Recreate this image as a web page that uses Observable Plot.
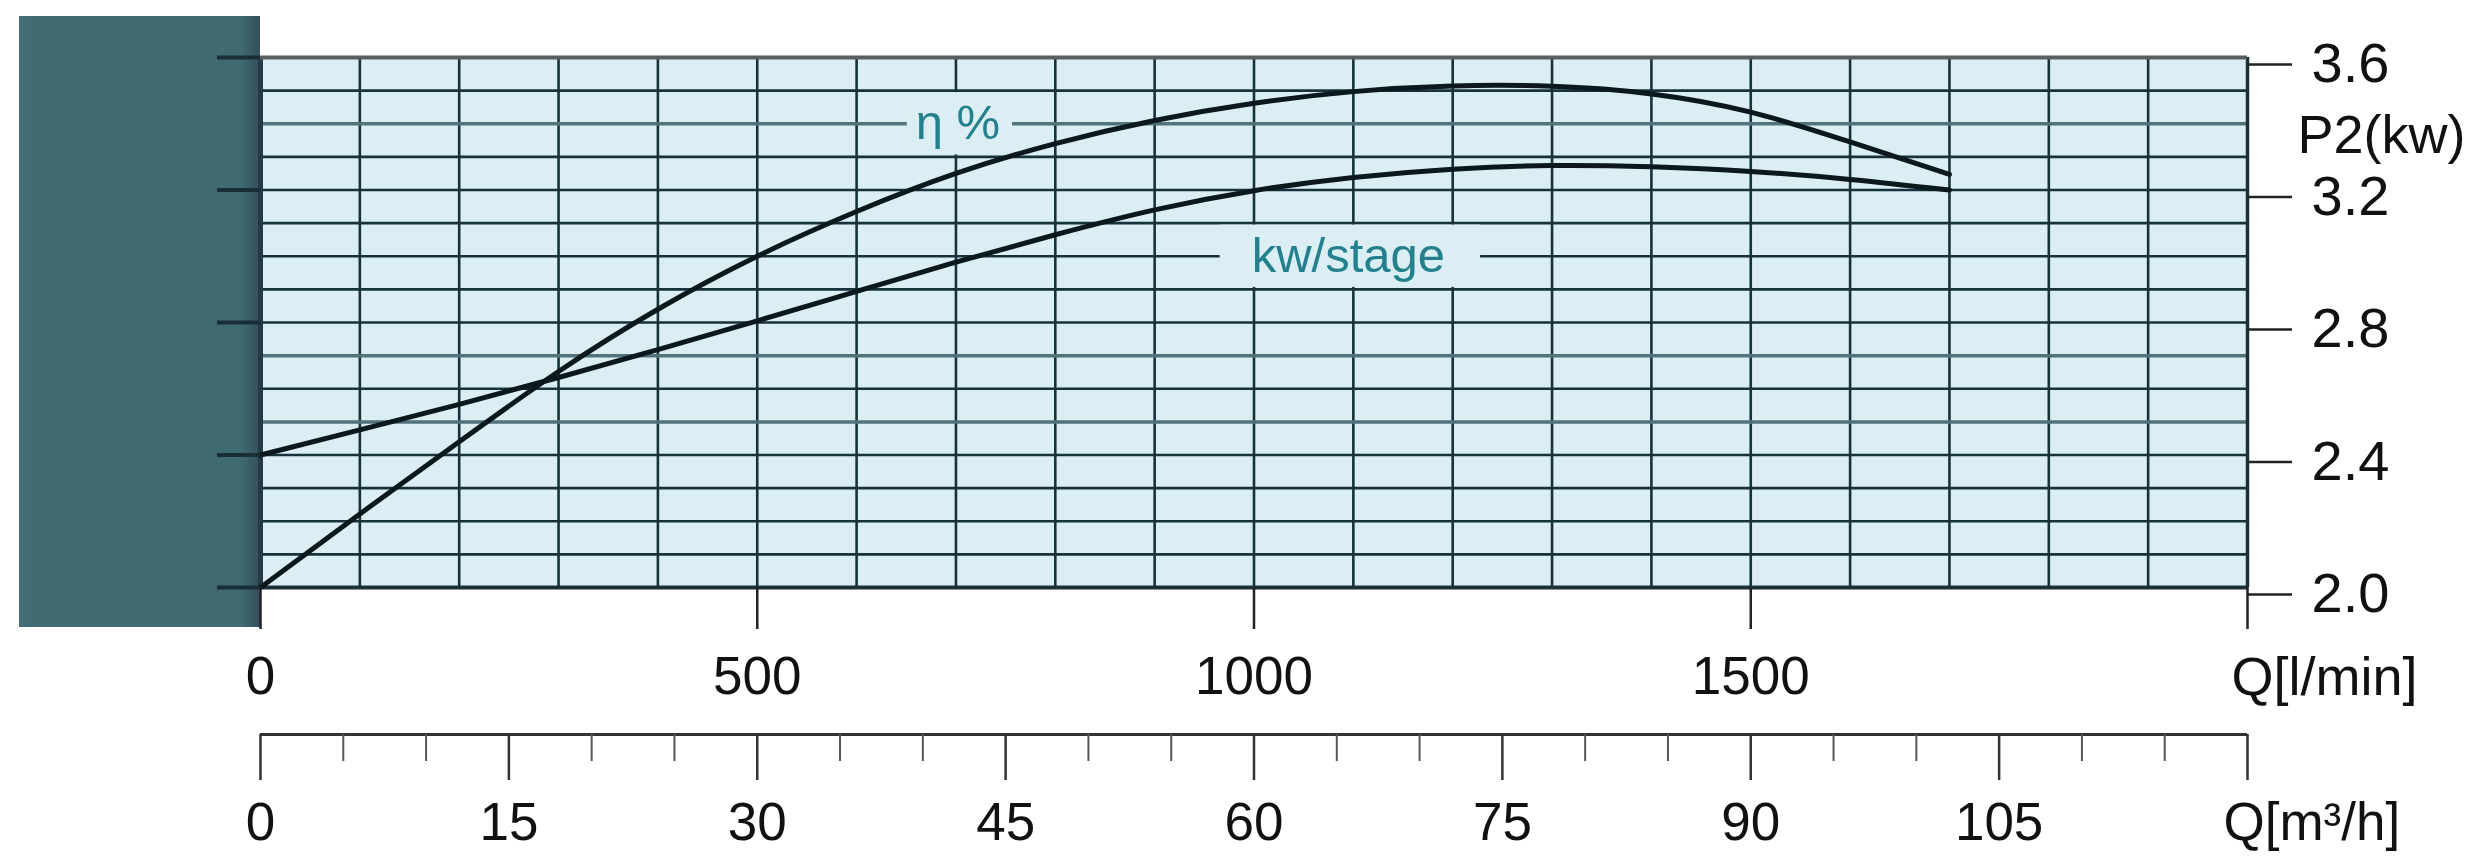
<!DOCTYPE html>
<html>
<head>
<meta charset="utf-8">
<script src="https://cdn.jsdelivr.net/npm/d3@7"></script>
<script src="https://cdn.jsdelivr.net/npm/@observablehq/plot@0.6"></script>
<style>
  html, body { margin: 0; padding: 0; background: #ffffff; }
  #wrap { position: relative; width: 2473px; height: 868px; overflow: hidden; font-family: "Liberation Sans", Arial, sans-serif; }
  #dark { position: absolute; left: 19px; top: 16px; width: 241px; height: 611px;
          background: linear-gradient(to right, #44707a 0px, #3f6a70 20px, #3f6a70 222px, #364f5b 241px); }
  .layer { position: absolute; left: 0; top: 0; }
</style>
</head>
<body>
<div id="wrap">
  <div id="dark"></div>
</div>
<script>
// ---- data ----
const flowLpm = [0, 100, 200, 300, 400, 500, 600, 700, 800, 900, 1000, 1100, 1200, 1300, 1400, 1500, 1600, 1700];
const kwStage = [2.40, 2.476, 2.553, 2.634, 2.718, 2.805, 2.894, 2.982, 3.065, 3.14, 3.198, 3.238, 3.263, 3.274, 3.27, 3.256, 3.232, 3.20];
const etaCurve = [2.00, 2.222, 2.44, 2.652, 2.84, 3.00, 3.135, 3.25, 3.34, 3.41, 3.462, 3.497, 3.514, 3.513, 3.49, 3.435, 3.345, 3.247];

const yTicks = [2.0, 2.4, 2.8, 3.2, 3.6];
const lpmTicks = [0, 500, 1000, 1500, 2000];
const m3hMajor = [0, 15, 30, 45, 60, 75, 90, 105, 120];
const m3hMinor = [5, 10, 20, 25, 35, 40, 50, 55, 65, 70, 80, 85, 95, 100, 110, 115];
const gridQ = d3.range(0, 2001, 100);
const gridP = d3.range(20, 37).map(d => d / 10);
const softGridP = [3.4, 2.7, 2.5];

const curveLabels = [
  {text: "η %", q: 702, p: 3.4, q1: 651, q2: 757, p1: 3.306, p2: 3.494},
  {text: "kw/stage", q: 1095, p: 3.0, q1: 966, q2: 1228, p1: 2.906, p2: 3.094}
];

const series = flowLpm.flatMap((q, i) => [
  {q, v: etaCurve[i], s: "eta"},
  {q, v: kwStage[i], s: "kw"}
]);

const W = 2473, H = 868;
const ML = 260, MR = 226, MT = 57, MB = 281;
const BG = "#daeef3", GRID = "#17323b", INK = "#111111", TEAL = "#23808c";
const FONT = "Liberation Sans, Arial, sans-serif";

const main = Plot.plot({
  width: W, height: H,
  marginLeft: ML, marginRight: MR, marginTop: MT, marginBottom: MB,
  style: {background: "transparent", fontFamily: FONT, overflow: "visible"},
  x: {domain: [0, 2000], axis: null},
  y: {domain: [2.0, 3.6], axis: null},
  marks: [
    Plot.frame({fill: BG, stroke: null}),
    Plot.ruleX(gridQ, {stroke: GRID, strokeWidth: 2.6}),
    Plot.ruleY(gridP.filter(p => p > 2.0 && p < 3.6 && !softGridP.includes(p)), {stroke: GRID, strokeWidth: 2.6}),
    Plot.ruleY(softGridP, {stroke: "#52727c", strokeWidth: 3.5}),
    Plot.ruleX([0], {stroke: "#243a44", strokeWidth: 5}),
    Plot.ruleX([2000], {stroke: "#1c3038", strokeWidth: 3.5}),
    Plot.ruleY([3.6], {stroke: "#5a5f62", strokeWidth: 4}),
    Plot.ruleY([2.0], {stroke: "#1c3038", strokeWidth: 4}),
    // label boxes hide the grid under the curve labels
    Plot.rect(curveLabels, {x1: "q1", x2: "q2", y1: "p1", y2: "p2", fill: BG}),
    Plot.text(curveLabels, {x: "q", y: "p", text: "text", fill: TEAL, fontSize: 49, fontFamily: FONT}),
    Plot.line(series, {x: "q", y: "v", z: "s", curve: "natural", stroke: "#0b181d", strokeWidth: 5}),
    // right axis (P2)
    Plot.axisY({anchor: "right", ticks: yTicks, tickSize: 44, tickPadding: 20, tickFormat: d3.format(".1f"),
                fontSize: 56, fill: INK, stroke: "#222", strokeWidth: 2.5, dy: 7}),
    Plot.text(["P2(kw)"], {frameAnchor: "top-right", dx: 218, dy: 78, textAnchor: "end", lineAnchor: "middle",
                           fontSize: 54, fill: INK, fontFamily: FONT}),
    // left ticks on the dark band
    Plot.axisY({anchor: "left", ticks: yTicks, tickSize: 43, tickFormat: () => "", stroke: "#1a2e35", strokeWidth: 4}),
    // bottom axis (l/min)
    Plot.axisX({anchor: "bottom", ticks: lpmTicks, tickSize: 42, tickPadding: 27,
                tickFormat: d => d === 2000 ? "" : String(d), fontSize: 53, fill: INK, stroke: "#222", strokeWidth: 2.5}),
    Plot.text(["Q[l/min]"], {x: () => 2000, frameAnchor: "bottom", textAnchor: "start", lineAnchor: "top",
                             dx: -16, dy: 69, fontSize: 54, fill: INK, fontFamily: FONT})
  ]
});
main.classList.add("layer");

const second = Plot.plot({
  width: W, height: H,
  marginLeft: ML, marginRight: MR, marginTop: 734, marginBottom: H - 734,
  style: {background: "transparent", fontFamily: FONT, overflow: "visible"},
  x: {domain: [0, 120], axis: null},
  y: {domain: [0, 1], axis: null},
  marks: [
    Plot.ruleY([0], {x1: 0, x2: 120, stroke: "#333", strokeWidth: 3}),
    Plot.axisX({anchor: "bottom", ticks: m3hMinor, tickSize: 27, tickFormat: () => "", stroke: "#555", strokeWidth: 2}),
    Plot.axisX({anchor: "bottom", ticks: m3hMajor, tickSize: 46, tickPadding: 22,
                tickFormat: d => d === 120 ? "" : String(d), fontSize: 53, fill: INK, stroke: "#333", strokeWidth: 2.5}),
    Plot.text(["Q[m³/h]"], {x: () => 120, frameAnchor: "bottom", textAnchor: "start", lineAnchor: "top",
                            dx: -24, dy: 68, fontSize: 53, fill: INK, fontFamily: FONT})
  ]
});
second.classList.add("layer");

const wrap = document.getElementById("wrap");
wrap.appendChild(main);
wrap.appendChild(second);
</script>
</body>
</html>
